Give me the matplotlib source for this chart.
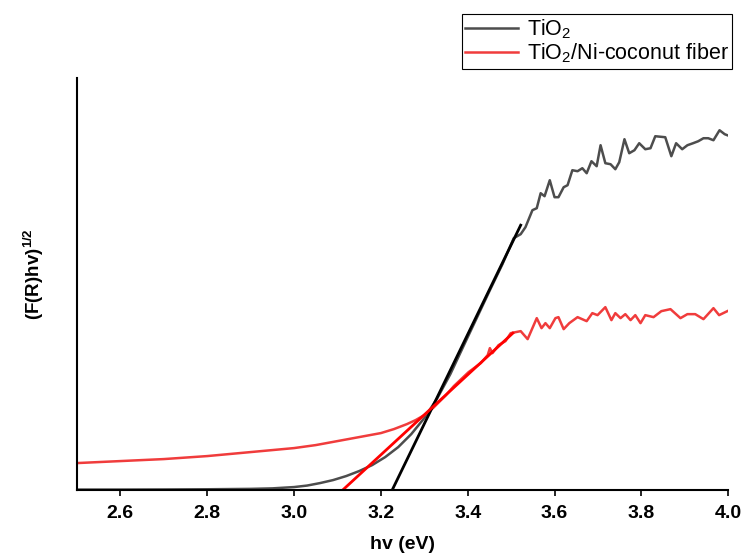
import matplotlib
matplotlib.use("Agg")
import matplotlib.pyplot as plt

plt.rcParams.update({
    "font.family": "Liberation Sans",
    "mathtext.fontset": "custom",
    "mathtext.rm": "Liberation Sans",
    "mathtext.bf": "Liberation Sans:bold",
    "mathtext.it": "Liberation Sans:italic",
})

# TiO2 spectrum (Tauc plot)
tio2_x = [2.50, 2.60, 2.70, 2.80, 2.90, 2.95, 3.00, 3.03, 3.06, 3.09, 3.12, 3.15,
          3.18, 3.21, 3.24, 3.27, 3.30, 3.33, 3.36, 3.40, 3.45, 3.48, 3.506, 3.522,
          3.533, 3.549, 3.559, 3.568,
          3.577, 3.589, 3.600, 3.609, 3.621, 3.630, 3.641, 3.653, 3.664, 3.674,
          3.685, 3.697, 3.706, 3.717, 3.729, 3.740, 3.749, 3.761, 3.772, 3.784,
          3.795, 3.809, 3.821, 3.832, 3.855, 3.869, 3.880, 3.894, 3.906, 3.919,
          3.931, 3.943, 3.954, 3.966, 3.980, 3.992, 3.998]
tio2_y = [0.005, 0.005, 0.006, 0.008, 0.012, 0.017, 0.03, 0.045, 0.07, 0.10, 0.14, 0.19,
          0.25, 0.33, 0.43, 0.56, 0.72, 0.92, 1.16, 1.53, 1.99, 2.26, 2.52, 2.56,
          2.63, 2.80, 2.82, 2.97,
          2.94, 3.10, 2.93, 2.93, 3.03, 3.05, 3.20, 3.19, 3.22, 3.17,
          3.29, 3.24, 3.45, 3.27, 3.26, 3.21, 3.28, 3.51, 3.37, 3.40,
          3.47, 3.41, 3.42, 3.54, 3.53, 3.34, 3.47, 3.41, 3.45, 3.47,
          3.49, 3.52, 3.52, 3.50, 3.60, 3.56, 3.55]

# TiO2/Ni-coconut fiber spectrum
ni_x = [2.50, 2.60, 2.70, 2.80, 2.90, 3.00, 3.05, 3.10, 3.15, 3.20, 3.23, 3.26,
        3.28, 3.30, 3.32, 3.35, 3.368, 3.402, 3.430, 3.446, 3.451, 3.457, 3.471,
        3.487, 3.499,
        3.522, 3.538, 3.559, 3.570, 3.579, 3.589, 3.602, 3.609, 3.621, 3.634,
        3.653, 3.674, 3.687, 3.699, 3.717, 3.731, 3.740, 3.752, 3.763, 3.775,
        3.786, 3.798, 3.809, 3.828, 3.846, 3.867, 3.890, 3.906, 3.924, 3.943,
        3.966, 3.979, 3.998]
ni_y = [0.27, 0.29, 0.31, 0.34, 0.38, 0.42, 0.45, 0.49, 0.53, 0.57, 0.61, 0.66,
        0.70, 0.75, 0.82, 0.95, 1.04, 1.18, 1.27, 1.35, 1.42, 1.37, 1.45,
        1.49, 1.57,
        1.59, 1.51, 1.72, 1.62, 1.67, 1.62, 1.72, 1.73, 1.61, 1.67,
        1.73, 1.69, 1.77, 1.75, 1.83, 1.70, 1.77, 1.72, 1.76, 1.70,
        1.75, 1.67, 1.75, 1.73, 1.79, 1.81, 1.72, 1.76, 1.76, 1.71,
        1.82, 1.75, 1.79]

# linear fits (band gap extrapolation)
fit_tio2_x = [3.226, 3.522]
fit_tio2_y = [0.0, 2.65]
fit_ni_x = [3.112, 3.504]
fit_ni_y = [0.0, 1.57]

fig = plt.figure(figsize=(7.43, 5.55), dpi=100)
ax = fig.add_axes([0.1036, 0.117, 0.8765, 0.742])

ax.plot(tio2_x, tio2_y, color="#4d4d4d", linewidth=1.8, label=r"TiO$_{\mathrm{2}}$")
ax.plot(ni_x, ni_y, color="#f03c3c", linewidth=1.8, label=r"TiO$_{\mathrm{2}}$/Ni-coconut fiber")
ax.plot(fit_tio2_x, fit_tio2_y, color="black", linewidth=2)
ax.plot(fit_ni_x, fit_ni_y, color="red", linewidth=2)

ax.set_xlim(2.5, 4.0)
ax.set_ylim(0, 4.12)
ax.set_xticks([2.6, 2.8, 3.0, 3.2, 3.4, 3.6, 3.8, 4.0])
ax.set_yticks([])
ax.tick_params(axis="x", direction="out", length=4, width=1.2, pad=7)
for lab in ax.get_xticklabels():
    lab.set_fontsize(14)
    lab.set_fontweight("bold")

for side in ["top", "right"]:
    ax.spines[side].set_visible(False)
for side in ["left", "bottom"]:
    ax.spines[side].set_linewidth(1.5)

ax.set_xlabel("hv (eV)", fontsize=14, fontweight="bold", labelpad=10)
ax.set_ylabel(r"(F(R)hv)$^{\mathbf{1/2}}$", fontsize=13.5, fontweight="bold")
ax.yaxis.set_label_coords(-0.048, 0.524)

leg = fig.legend(loc="upper right", bbox_to_anchor=(0.985, 0.975), fontsize=15.5,
                 frameon=True, fancybox=False, edgecolor="black", framealpha=1,
                 handlelength=2.45, handletextpad=0.4, labelspacing=0.05,
                 borderpad=0.15, borderaxespad=0)
leg.get_frame().set_linewidth(0.8)

fig.savefig("out.png", dpi=100)
